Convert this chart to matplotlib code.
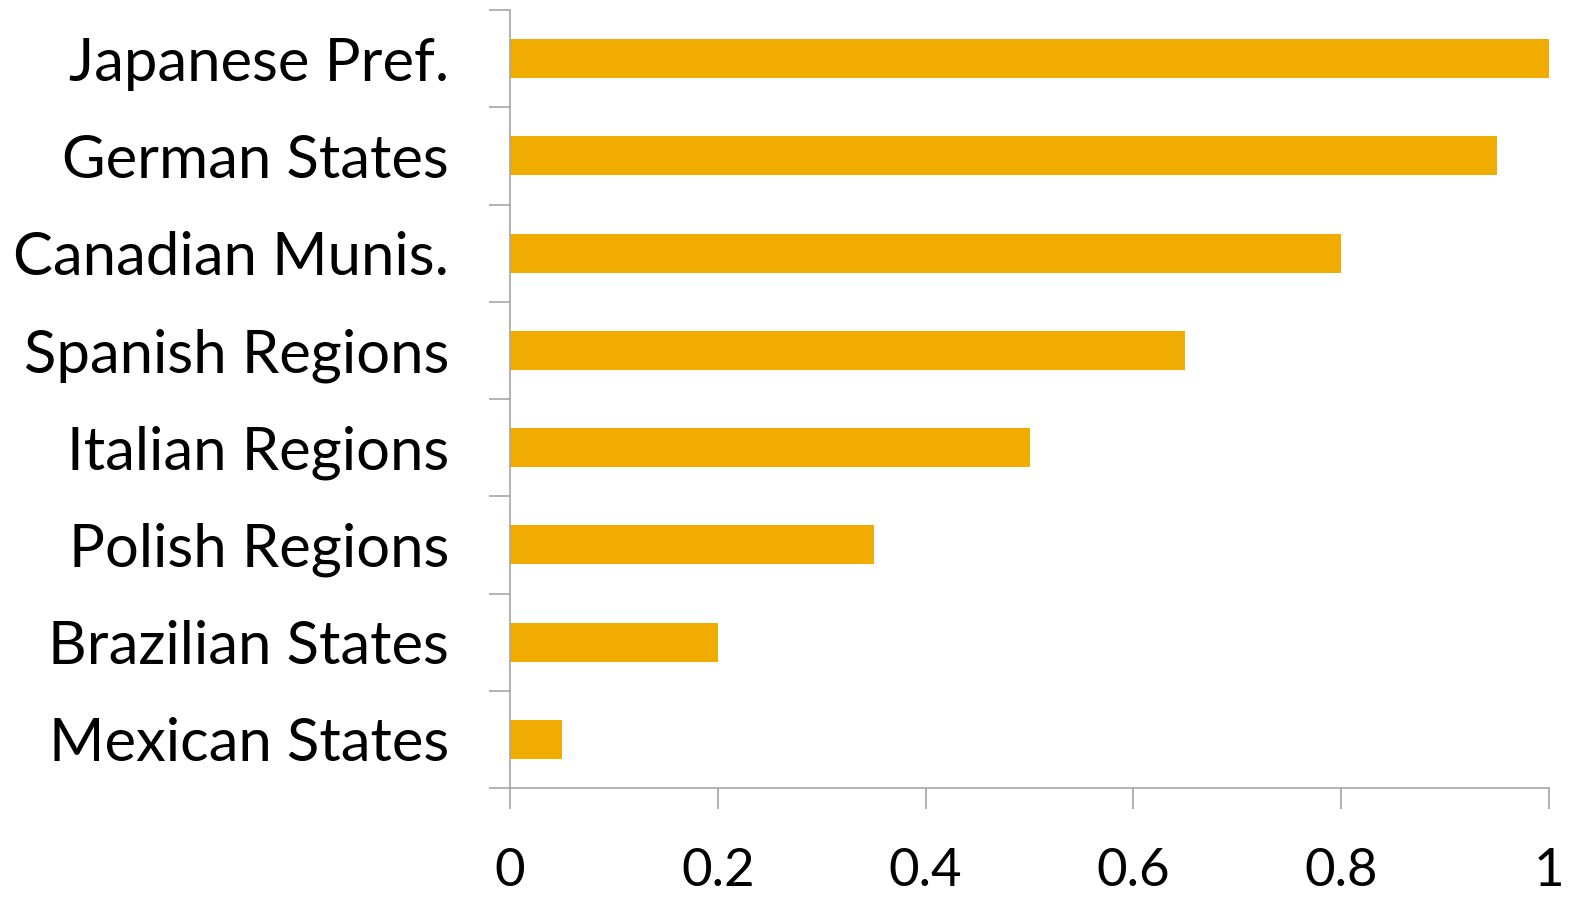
import matplotlib
matplotlib.use("Agg")
import matplotlib.pyplot as plt
import numpy as np

categories = ["Japanese Pref.", "German States", "Canadian Munis.", "Spanish Regions",
              "Italian Regions", "Polish Regions", "Brazilian States", "Mexican States"]
values = [1.0, 0.95, 0.80, 0.65, 0.50, 0.35, 0.20, 0.05]
xticks = [0, 0.2, 0.4, 0.6, 0.8, 1]
xtick_labels = ["0", "0.2", "0.4", "0.6", "0.8", "1"]

bar_color = "#F0AD00"
axis_color = "#A6A6A6"

plt.rcParams["font.family"] = ["Lato", "DejaVu Sans"]

fig = plt.figure(figsize=(15.70, 9.01), dpi=100)
ax = fig.add_axes([510 / 1570, 1 - 788 / 901, 1039 / 1570, 778 / 901])

n = len(categories)
ypos = np.arange(n)
ax.barh(ypos, values, height=0.4, color=bar_color, zorder=2)
ax.set_xlim(0, 1)
ax.set_ylim(n - 0.5, -0.5)

# labels sit at bar centres, tick marks at category boundaries
ax.set_yticks(ypos)
ax.set_yticklabels(categories, fontsize=43, color="black")
ax.tick_params(axis="y", which="major", length=0, pad=44)
ax.set_yticks(np.arange(n + 1) - 0.5, minor=True)
ax.tick_params(axis="y", which="minor", length=15, width=1.2, color=axis_color, direction="out")

ax.set_xticks(xticks)
ax.set_xticklabels(xtick_labels, fontsize=38, color="black")
ax.tick_params(axis="x", length=15, width=1.2, color=axis_color, direction="out", pad=28)

for side in ["top", "right"]:
    ax.spines[side].set_visible(False)
for side in ["left", "bottom"]:
    ax.spines[side].set_color(axis_color)
    ax.spines[side].set_linewidth(1.2)

fig.savefig("out.png", dpi=100)
